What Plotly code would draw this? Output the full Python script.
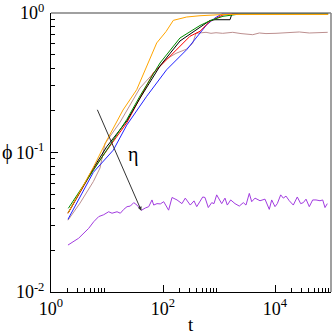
import math
import plotly.graph_objects as go

# ---- data (t, phi) ----
orange_t = [2.01, 5.62, 10, 19.3, 33.9, 77.2, 113, 153, 265, 458, 1178, 5000, 20000, 89000]
orange_phi = [0.0368, 0.0774, 0.123, 0.2016, 0.282, 0.61, 0.735, 0.886, 0.936, 0.956, 0.975, 0.976, 0.976, 0.976]

green_t = [2.04, 5.62, 10, 22.5, 38.8, 88.4, 201, 458, 690, 1178, 2371, 10000, 89000]
green_phi = [0.0398, 0.074, 0.105, 0.172, 0.254, 0.438, 0.662, 0.814, 0.88, 0.947, 0.984, 0.985, 0.985]

black_t = [2.01, 5.62, 9.88, 22.5, 38.8, 88.4, 201, 458, 690, 848, 1571, 1708, 10000, 89000]
black_phi = [0.0368, 0.0764, 0.11, 0.168, 0.245, 0.417, 0.63, 0.794, 0.884, 0.895, 0.895, 0.99, 0.99, 0.99]

red_t = [2.01, 5.62, 10, 22.5, 67.1, 201, 303, 458, 690, 1178, 1931, 10000, 89000]
red_phi = [0.0366, 0.075, 0.104, 0.163, 0.371, 0.577, 0.681, 0.74, 0.872, 0.968, 0.995, 0.998, 0.998]

blue_t = [2.01, 5.69, 12.96, 22.5, 51.2, 116, 265, 458, 603, 848, 1178, 10000, 89000]
blue_phi = [0.0332, 0.072, 0.104, 0.157, 0.253, 0.392, 0.546, 0.719, 0.824, 0.921, 0.995, 0.998, 0.998]

brown_t = [2.01, 3.3, 5.69, 7.5, 9.21, 17.1, 38.8, 113, 171, 258, 295, 339, 388,
           586, 719, 884, 1164, 1758, 2472, 4000, 5250, 6900, 10420, 15700, 20700,
           27160, 41000, 61800, 87300]
brown_phi = [0.0327, 0.0434, 0.0618, 0.0774, 0.116, 0.165, 0.29, 0.466, 0.514, 0.549, 0.573, 0.606, 0.715,
             0.727, 0.715, 0.722, 0.715, 0.727, 0.712, 0.699, 0.719, 0.712, 0.715, 0.722, 0.727,
             0.731, 0.719, 0.727, 0.727]

violet_t = [2.01, 3.12, 4.71, 5.79, 7.11, 8.73, 10.7, 12.3, 15.1, 17.3, 19.9, 22.8, 26.1, 30.0,
            34.3, 41.0, 48.3, 55.6, 63.6, 68.2, 78.1, 89.5, 103, 126, 145, 178, 218, 250, 307,
            358, 400, 512, 562, 644, 741, 814, 909, 1117, 1279, 1406, 1618, 1931, 2305, 2716,
            3034, 3477, 3837, 4395, 5395, 6627, 7907, 8730, 10000, 10990, 12640, 14070, 15710,
            17990, 21220, 25010, 28770, 32010, 35790, 40960, 47080, 53960, 63630, 71100, 78160, 85910]
violet_phi = [0.0217, 0.0243, 0.0286, 0.0319, 0.0347, 0.0358, 0.0376, 0.0367, 0.0376, 0.0367, 0.0391,
              0.0409, 0.0413, 0.0437, 0.042, 0.0385, 0.04, 0.0409, 0.0457, 0.042, 0.043, 0.0428,
              0.0444, 0.0386, 0.0476, 0.0457, 0.043, 0.0471, 0.042,
              0.045, 0.0409, 0.048, 0.0476, 0.0403, 0.0437, 0.043, 0.0497, 0.043, 0.0471, 0.042,
              0.0457, 0.043, 0.0413, 0.0437, 0.042, 0.0509, 0.0444, 0.0471, 0.0451, 0.0463,
              0.0391, 0.0457, 0.0409, 0.043, 0.0497, 0.0471, 0.0487, 0.0451, 0.042, 0.048, 0.043,
              0.0437, 0.0463, 0.0409, 0.0457, 0.0457, 0.0451, 0.0457, 0.0403, 0.043]

x_major = [1, 100, 10000]
x_major_text = ["10<sup>0</sup>", "10<sup>2</sup>", "10<sup>4</sup>"]
x_minor = [2, 3, 4, 5, 6, 7, 8, 9, 200, 300, 400, 500, 600, 700, 800, 900,
           20000, 30000, 40000, 50000, 60000, 70000, 80000, 90000]
y_major = [0.01, 0.1, 1]
y_major_text = ["10<sup>-2</sup>", "10<sup>-1</sup>", "10<sup>0</sup>"]
y_minor = [0.02, 0.03, 0.04, 0.05, 0.06, 0.07, 0.08, 0.09, 0.2, 0.3, 0.4, 0.5, 0.6, 0.7, 0.8, 0.9]

arrow_start = (6.55, 0.2074)
arrow_end = (41.0, 0.0383)
eta_pos = (29.1, 0.096)

FONT = "Liberation Serif"

series = [
    (violet_t, violet_phi, "#a23ce0"),
    (brown_t, brown_phi, "#bc8f8f"),
    (blue_t, blue_phi, "#2020ff"),
    (red_t, red_phi, "#ff0000"),
    (black_t, black_phi, "#000000"),
    (green_t, green_phi, "#008b00"),
    (orange_t, orange_phi, "#ffa500"),
]

fig = go.Figure()
for tx, py, col in series:
    fig.add_trace(go.Scatter(x=tx, y=py, mode="lines", line=dict(color=col, width=1),
                             showlegend=False, hoverinfo="skip"))

axis_common = dict(
    type="log", showgrid=False, zeroline=False, showline=True, linecolor="black", linewidth=1,
    ticks="inside", ticklen=7, tickwidth=1, tickcolor="black",
    tickfont=dict(family=FONT, size=18, color="black"),
)
fig.update_xaxes(**axis_common, range=[0, 5], tickmode="array", tickvals=x_major, ticktext=x_major_text,
                 minor=dict(tickmode="array", tickvals=x_minor, ticks="inside", ticklen=4,
                            tickcolor="black", tickwidth=1, showgrid=False))
fig.update_yaxes(**axis_common, range=[-2, 0], tickmode="array", tickvals=y_major, ticktext=y_major_text,
                 ticklabelstandoff=2,
                 minor=dict(tickmode="array", tickvals=y_minor, ticks="inside", ticklen=4,
                            tickcolor="black", tickwidth=1, showgrid=False))

fig.add_shape(type="line", xref="paper", yref="paper", x0=0, x1=1, y0=1, y1=1,
              line=dict(color="#808080", width=1.5))
fig.add_shape(type="line", xref="paper", yref="paper", x0=1, x1=1, y0=0, y1=1,
              line=dict(color="#808080", width=1.5))

fig.add_annotation(x=math.log10(arrow_end[0]), y=math.log10(arrow_end[1]),
                   ax=math.log10(arrow_start[0]), ay=math.log10(arrow_start[1]),
                   xref="x", yref="y", axref="x", ayref="y", text="",
                   showarrow=True, arrowhead=2, arrowsize=0.8, arrowwidth=1, arrowcolor="#333333")
fig.add_annotation(x=math.log10(eta_pos[0]), y=math.log10(eta_pos[1]), xref="x", yref="y",
                   text="η", showarrow=False, font=dict(family=FONT, size=20, color="black"))
fig.add_annotation(x=0, y=0.5, xref="paper", yref="paper", xanchor="center", xshift=-44, text="ϕ",
                   showarrow=False, font=dict(family=FONT, size=20, color="black"))
fig.add_annotation(x=0.5, y=0, xref="paper", yref="paper", yanchor="middle", yshift=-32, text="t",
                   showarrow=False, font=dict(family=FONT, size=19, color="black"))

fig.update_layout(width=332, height=336, margin=dict(l=51, r=1, t=13, b=44),
                  paper_bgcolor="white", plot_bgcolor="white", showlegend=False)

fig.write_html("out.html", config={"displayModeBar": False},
               post_script="document.body.style.margin='0';")
